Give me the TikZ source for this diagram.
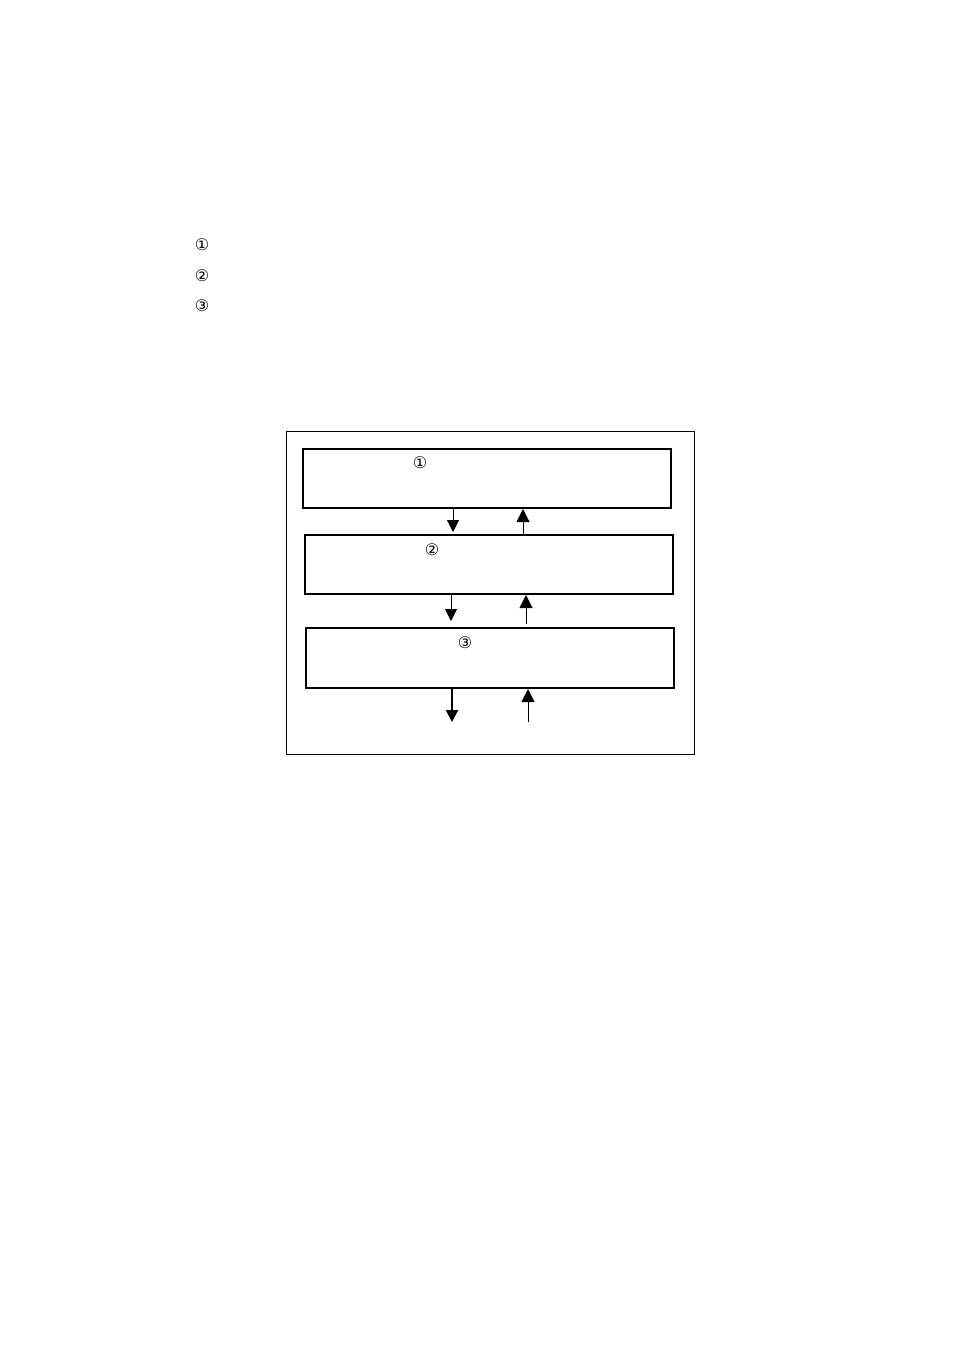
\documentclass[tikz,border=0pt]{standalone}
\usepackage{fontspec}
\newfontfamily\symfont{DejaVu Sans}
\usetikzlibrary{arrows.meta}
\usetikzlibrary{calc}

\tikzset{
  stage/.style={draw, line width=2pt, minimum width=368pt, minimum height=59pt, inner sep=0pt},
  num/.style={inner sep=0pt, font=\symfont\fontsize{16}{18}\selectfont},
  flow/.style={line width=1pt, -{Triangle[length=12pt, width=12pt]}},
  back/.style={line width=1pt, -{Triangle[length=13pt, width=13pt]}}
}

\begin{document}
\begin{tikzpicture}[x=1pt, y=-1pt]
      \useasboundingbox (0,0) rectangle (954,1351);

      % list of steps
      \node[num] (l1) at (202,245) {①};
      \node[num] (l2) at (202,276) {②};
      \node[num] (l3) at (202,306) {③};

      % frame and layers
      \node[draw, line width=1pt, minimum width=408pt, minimum height=323pt, inner sep=0pt] (frame) at (490,592.5) {};
      \node[stage] (b1) at (487,478.5) {};
      \node[stage] (b2) at (489,564.5) {};
      \node[stage, minimum height=60pt] (b3) at (490,658) {};

      \node[num] (n1) at (420,463) {①};
      \node[num] (n2) at (432,550) {②};
      \node[num] (n3) at (465,643) {③};

      \coordinate (d1) at (453,0);
      \coordinate (u1) at (523,0);
      \coordinate (d2) at (451,0);
      \coordinate (u2) at (526,0);
      \coordinate (dout) at (452,722);
      \coordinate (uin) at (528,722);

      \draw[flow, shorten >=2pt] (b1.south -| d1) -- (b2.north -| d1);
      \draw[back] (b2.north -| u1) -- (b1.south -| u1);
      \draw[flow, shorten >=6pt] (b2.south -| d2) -- (b3.north -| d2);
      \draw[back, shorten <=3pt] (b3.north -| u2) -- (b2.south -| u2);
      \draw[flow, line width=2pt] (b3.south -| dout) -- (dout);
      \draw[back] (uin) -- (b3.south -| uin);
    \end{tikzpicture}
\end{document}
